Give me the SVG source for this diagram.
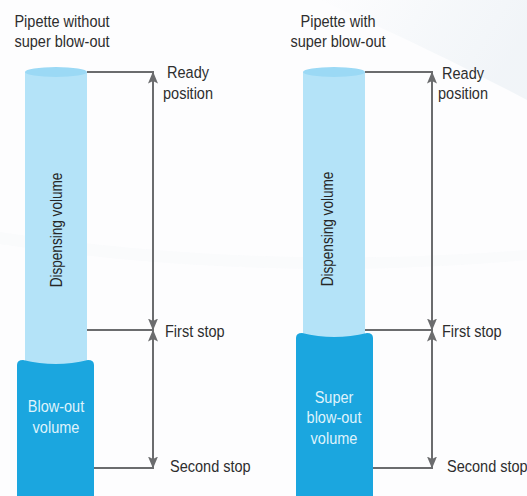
<svg xmlns="http://www.w3.org/2000/svg" width="527" height="496" viewBox="0 0 527 496">
  <defs>
    <linearGradient id="swoosh" x1="0" y1="0" x2="1" y2="0.3">
      <stop offset="0" stop-color="#eef3f7" stop-opacity="0"/>
      <stop offset="0.6" stop-color="#edf2f6" stop-opacity="0.8"/>
      <stop offset="1" stop-color="#e9eff4" stop-opacity="1"/>
    </linearGradient>
    <marker id="arrow" viewBox="0 0 12 10" refX="11.5" refY="5" markerWidth="12" markerHeight="10" markerUnits="userSpaceOnUse" orient="auto-start-reverse">
      <path d="M0,0 L12,5 L0,10 L2.5,5 Z" fill="#6b6c6e"/>
    </marker>
    <style>
      .lbl { font-family: "Liberation Sans", Arial, sans-serif; font-size: 16.5px; fill: #2e2e2e; }
      .in { font-family: "Liberation Sans", Arial, sans-serif; font-size: 16.5px; fill: #dff3fc; text-anchor: middle; }
      .vert { font-family: "Liberation Sans", Arial, sans-serif; font-size: 16px; fill: #262626; text-anchor: middle; }
      .light { fill: #b4e3f8; }
      .cap { fill: #9bd9f5; }
      .dark { fill: #1ba6df; }
      .conn { stroke: #6b6c6e; stroke-width: 2; fill: none; }
    </style>
  </defs>
  <rect width="527" height="496" fill="#fdfdfe"/>
  <path d="M320,0 L527,0 L527,100 C470,70 410,40 320,0 Z" fill="url(#swoosh)" opacity="0.6"/>
  <path d="M0,232 C120,250 300,268 527,250 L527,260 C300,280 120,262 0,244 Z" fill="#f5f7f9" opacity="0.4"/>

  <g id="connectors">
    <path class="conn" d="M87,72 H154"/>
    <path class="conn" d="M87,330 H154"/>
    <path class="conn" d="M94,468 H154"/>
    <path class="conn" d="M153,72 V330" marker-start="url(#arrow)" marker-end="url(#arrow)"/>
    <path class="conn" d="M153,330 V468" marker-start="url(#arrow)" marker-end="url(#arrow)"/>

    <path class="conn" d="M365,72 H433"/>
    <path class="conn" d="M365,330 H433"/>
    <path class="conn" d="M373,468 H433"/>
    <path class="conn" d="M432,72 V330" marker-start="url(#arrow)" marker-end="url(#arrow)"/>
    <path class="conn" d="M432,330 V468" marker-start="url(#arrow)" marker-end="url(#arrow)"/>
  </g>

  <g id="pipette-left">
    <text class="lbl" text-anchor="middle" transform="translate(62,27) scale(.88,1)">Pipette without</text>
    <text class="lbl" text-anchor="middle" transform="translate(62,47) scale(.88,1)">super blow-out</text>
    <rect class="light" x="25" y="72" width="62" height="292"/>
    <ellipse class="cap" cx="56" cy="72" rx="31" ry="5"/>
    <text class="vert" transform="translate(62,230) rotate(-90) scale(.85,1)">Dispensing volume</text>
  </g>
  <g id="blowout-left">
    <path class="dark" d="M17,496 V365 Q17,360 23,360 Q56,368 88,360 Q94,360 94,365 V496 Z"/>
    <text class="in" transform="translate(56,412) scale(.88,1)">Blow-out</text>
    <text class="in" transform="translate(56,433) scale(.88,1)">volume</text>
  </g>
  <g id="labels-left">
    <text class="lbl" text-anchor="middle" transform="translate(188,78) scale(.88,1)">Ready</text>
    <text class="lbl" text-anchor="middle" transform="translate(188,99) scale(.88,1)">position</text>
    <text class="lbl" transform="translate(165,337) scale(.88,1)">First stop</text>
    <text class="lbl" transform="translate(170,472) scale(.88,1)">Second stop</text>
  </g>

  <g id="pipette-right">
    <text class="lbl" text-anchor="middle" transform="translate(338,27) scale(.88,1)">Pipette with</text>
    <text class="lbl" text-anchor="middle" transform="translate(338,47) scale(.88,1)">super blow-out</text>
    <rect class="light" x="303" y="72" width="62" height="266"/>
    <ellipse class="cap" cx="334" cy="72" rx="31" ry="5"/>
    <text class="vert" transform="translate(333,229) rotate(-90) scale(.85,1)">Dispensing volume</text>
  </g>
  <g id="blowout-right">
    <path class="dark" d="M296,496 V338 Q296,333 302,333 Q334,341 367,333 Q373,333 373,338 V496 Z"/>
    <text class="in" transform="translate(334,403) scale(.88,1)">Super</text>
    <text class="in" transform="translate(334,423) scale(.88,1)">blow-out</text>
    <text class="in" transform="translate(334,444) scale(.88,1)">volume</text>
  </g>
  <g id="labels-right">
    <text class="lbl" text-anchor="middle" transform="translate(463,79) scale(.88,1)">Ready</text>
    <text class="lbl" text-anchor="middle" transform="translate(463,99) scale(.88,1)">position</text>
    <text class="lbl" transform="translate(442,337) scale(.88,1)">First stop</text>
    <text class="lbl" transform="translate(447,472) scale(.88,1)">Second stop</text>
  </g>
</svg>
